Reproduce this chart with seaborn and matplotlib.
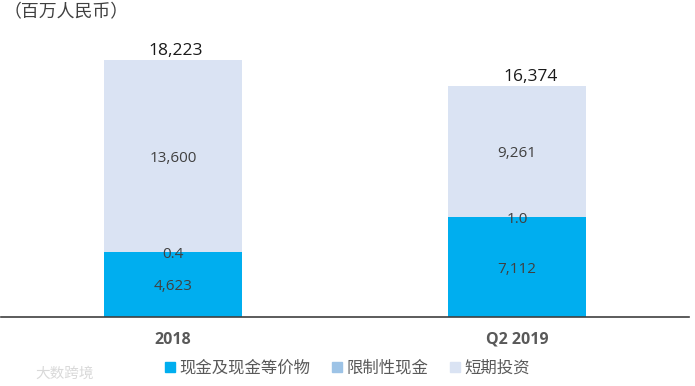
import matplotlib
matplotlib.use("Agg")
import matplotlib.pyplot as plt
import seaborn as sns
from matplotlib.patches import Patch

periods = ["2018", "Q2 2019"]
cash = [4623, 7112]
restricted = [0.4, 1.0]
short_term = [13600, 9261]
totals = [18223, 16374]
cash_labels = ["4,623", "7,112"]
restricted_labels = ["0.4", "1.0"]
short_term_labels = ["13,600", "9,261"]
total_labels = ["18,223", "16,374"]
legend_labels = ["现金及现金等价物", "限制性现金", "短期投资"]
unit_label = "（百万人民币）"
watermark = "大数跨境"

colors = ["#00AEEF", "#9DC3E6", "#DAE3F3"]

sns.set_theme(style="white")
plt.rcParams["font.family"] = ["Open Sans", "Noto Sans CJK SC", "DejaVu Sans"]

fig = plt.figure(figsize=(6.95, 3.86), dpi=100)
ax = fig.add_axes([1 / 695, 69 / 386, 688 / 695, 317 / 386])

# stacked bars, bottoms come from the series below
bottom2 = cash
bottom3 = [a + b for a, b in zip(cash, restricted)]
sns.barplot(x=periods, y=cash, color=colors[0], width=0.4, saturation=1, linewidth=0, ax=ax)
sns.barplot(x=periods, y=restricted, bottom=bottom2, color=colors[1], width=0.4, saturation=1, linewidth=0, ax=ax)
sns.barplot(x=periods, y=short_term, bottom=bottom3, color=colors[2], width=0.4, saturation=1, linewidth=0, ax=ax)

ax.set_xlim(-0.5, 1.5)
ax.set_ylim(0, 22480)
ax.set_yticks([])
ax.set_ylabel("")
sns.despine(ax=ax, left=True)
ax.spines["bottom"].set_color("#404040")
ax.spines["bottom"].set_linewidth(1.2)
ax.tick_params(axis="x", length=0, pad=10.5)
for t in ax.get_xticklabels():
    t.set_fontsize(11.5)
    t.set_fontweight("bold")
    t.set_color("#595959")

txt = "#404040"


def seg_label(i, y, s):
    ax.annotate(s, (i, y), xytext=(0, -1.8), textcoords="offset points",
                ha="center", va="center", fontsize=11, color=txt)


for i in range(2):
    seg_label(i, cash[i] / 2, cash_labels[i])
    seg_label(i, cash[i] + restricted[i], restricted_labels[i])
    seg_label(i, bottom3[i] + short_term[i] / 2, short_term_labels[i])

ax.annotate(total_labels[0], (0, totals[0]), xytext=(2, 1), textcoords="offset points",
            ha="center", va="bottom", fontsize=12.5, color="#1a1a1a")
ax.annotate(total_labels[1], (1, totals[1]), xytext=(10, 1), textcoords="offset points",
            ha="center", va="bottom", fontsize=12.5, color="#1a1a1a")

handles = [Patch(color=c) for c in colors]
fig.legend(handles, legend_labels, loc="center", bbox_to_anchor=(0.5, 17 / 386),
           ncol=3, frameon=False, fontsize=11.8, labelcolor="#595959",
           handlelength=0.6, handleheight=0.6, handletextpad=0.25, columnspacing=1.35)

fig.text(4 / 695, 1 - 12 / 386, unit_label, ha="left", va="center", fontsize=12.9, color="#404040")
fig.text(35 / 695, 1 - 374 / 386, watermark, ha="left", va="center", fontsize=10.5, color="#d9d9d9")

fig.savefig("out.png", dpi=100)
